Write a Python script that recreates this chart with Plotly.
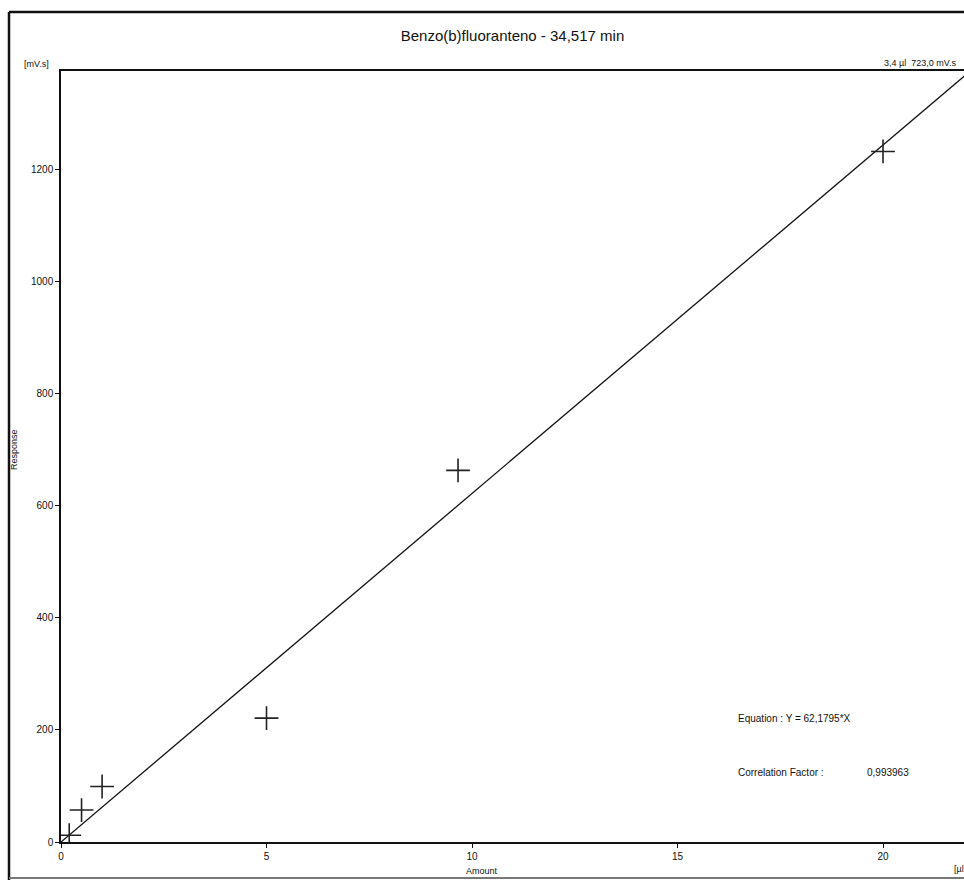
import plotly.graph_objects as go

# Data
amount = [0.2, 0.5, 1.0, 5.0, 9.66, 20.0]          # µl
response = [12, 57, 99, 221, 663, 1232]             # mV.s
slope = 62.1795
fit_x = [0.0, 22.0]
fit_y = [slope * v for v in fit_x]
x_ticks = [0, 5, 10, 15, 20]
y_ticks = [0, 200, 400, 600, 800, 1000, 1200]

FONT = "Liberation Sans Narrow, Liberation Sans, Arial, sans-serif"

fig = go.Figure()
fig.add_trace(go.Scatter(x=fit_x, y=fit_y, mode="lines",
                         line=dict(color="#111", width=1.3),
                         hoverinfo="skip", showlegend=False))
fig.add_trace(go.Scatter(x=amount, y=response, mode="markers",
                         marker=dict(symbol="cross-thin", size=17,
                                     line=dict(color="#222", width=1.6)),
                         showlegend=False))

W, H = 964, 880
L, R, T, B = 61, 0, 71, 38
pw, ph = W - L - R, H - T - B
xmax = pw / 41.1
ymax = ph / 0.5605

def px(xp):
    return (xp - L) / pw

def py(yp):
    return (H - B - yp) / ph

def note(text, x, y, xanchor="left", size=9, angle=0):
    return dict(text=text, xref="paper", yref="paper", x=px(x), y=py(y),
                xanchor=xanchor, yanchor="middle", textangle=angle,
                showarrow=False, font=dict(size=size))

fig.update_layout(
    width=W, height=H,
    margin=dict(l=L, r=R, t=T, b=B),
    paper_bgcolor="white", plot_bgcolor="white",
    font=dict(family=FONT, size=10, color="#111"),
    title=dict(text="Benzo(b)fluoranteno - 34,517 min", x=0.5, xref="paper",
               y=1 - 36 / H, yanchor="middle",
               font=dict(family=FONT, size=15, color="#111")),
    xaxis=dict(range=[0, xmax], tickvals=x_ticks, showgrid=False, zeroline=False,
               showline=True, linecolor="#111", linewidth=2, mirror=True,
               ticks="outside", ticklen=4, tickcolor="#111",
               tickfont=dict(size=10, family=FONT)),
    yaxis=dict(range=[0, ymax], tickvals=y_ticks, showgrid=False, zeroline=False,
               showline=True, linecolor="#111", linewidth=1.5,
               ticks="outside", ticklen=4, tickcolor="#111",
               tickfont=dict(size=10, family=FONT)),
    annotations=[
        note("[mV.s]", 22, 64),
        note("3,4 µl  723,0 mV.s", 958, 63, xanchor="right"),
        note("Response", 14, 450, xanchor="center", angle=-90),
        note("Amount", 482, 871, xanchor="center"),
        note("[µl", 952, 869),
        note("Equation : Y = 62,1795*X", 736, 718, size=10),
        note("Correlation Factor :", 736, 772, size=10),
        note("0,993963", 865, 772, size=10),
    ],
    shapes=[
        dict(type="line", xref="paper", yref="paper", x0=px(9), x1=px(964),
             y0=py(12), y1=py(12), line=dict(color="#111", width=2.5)),
        dict(type="line", xref="paper", yref="paper", x0=px(9), x1=px(9),
             y0=py(12), y1=py(880), line=dict(color="#111", width=2.5)),
        dict(type="line", xref="paper", yref="paper", x0=px(9), x1=px(964),
             y0=py(878), y1=py(878), line=dict(color="#777", width=2)),
    ],
)

fig.write_html("out.html")
